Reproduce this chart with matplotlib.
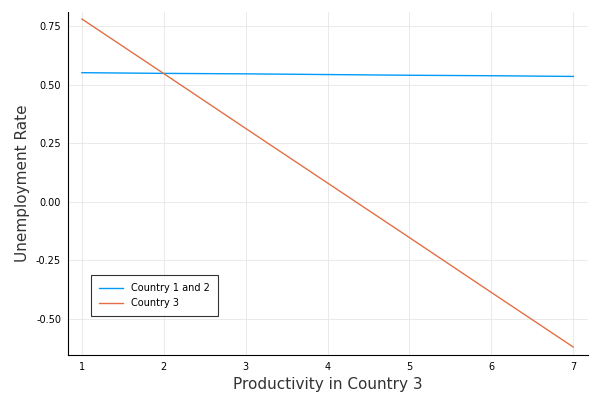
import matplotlib
matplotlib.use("Agg")
import matplotlib.pyplot as plt

productivity = [1, 2, 3, 4, 5, 6, 7]
country12 = [0.551, 0.548, 0.546, 0.543, 0.540, 0.538, 0.535]
country3 = [0.780, 0.547, 0.313, 0.080, -0.153, -0.387, -0.620]

fig = plt.figure(figsize=(6, 4), dpi=100)
ax = fig.add_axes([68 / 600, 45 / 400, 520 / 600, 343 / 400])
ax.plot(productivity, country12, color="#009af9", lw=1, label="Country 1 and 2")
ax.plot(productivity, country3, color="#e26f46", lw=1, label="Country 3")
ax.set_xlim(0.83, 7.18)
ax.set_ylim(-0.654, 0.81)
ax.set_xticks(productivity)
ax.set_yticks([-0.5, -0.25, 0, 0.25, 0.5, 0.75])
ax.set_yticklabels(["-0.50", "-0.25", "0.00", "0.25", "0.50", "0.75"])
ax.grid(True, color="#e6e6e6", lw=0.6)
ax.tick_params(labelsize=7, length=0, pad=5)
for s in ["top", "right"]:
    ax.spines[s].set_visible(False)
ax.set_xlabel("Productivity in Country 3", fontsize=11, color="#333333")
ax.set_ylabel("Unemployment Rate", fontsize=11, color="#333333")
leg = ax.legend(loc="lower left", bbox_to_anchor=(0.035, 0.1), fontsize=7,
                fancybox=False, edgecolor="black", borderpad=0.8, handlelength=2.5)
leg.get_frame().set_linewidth(0.8)
fig.savefig("out.png", dpi=100)
